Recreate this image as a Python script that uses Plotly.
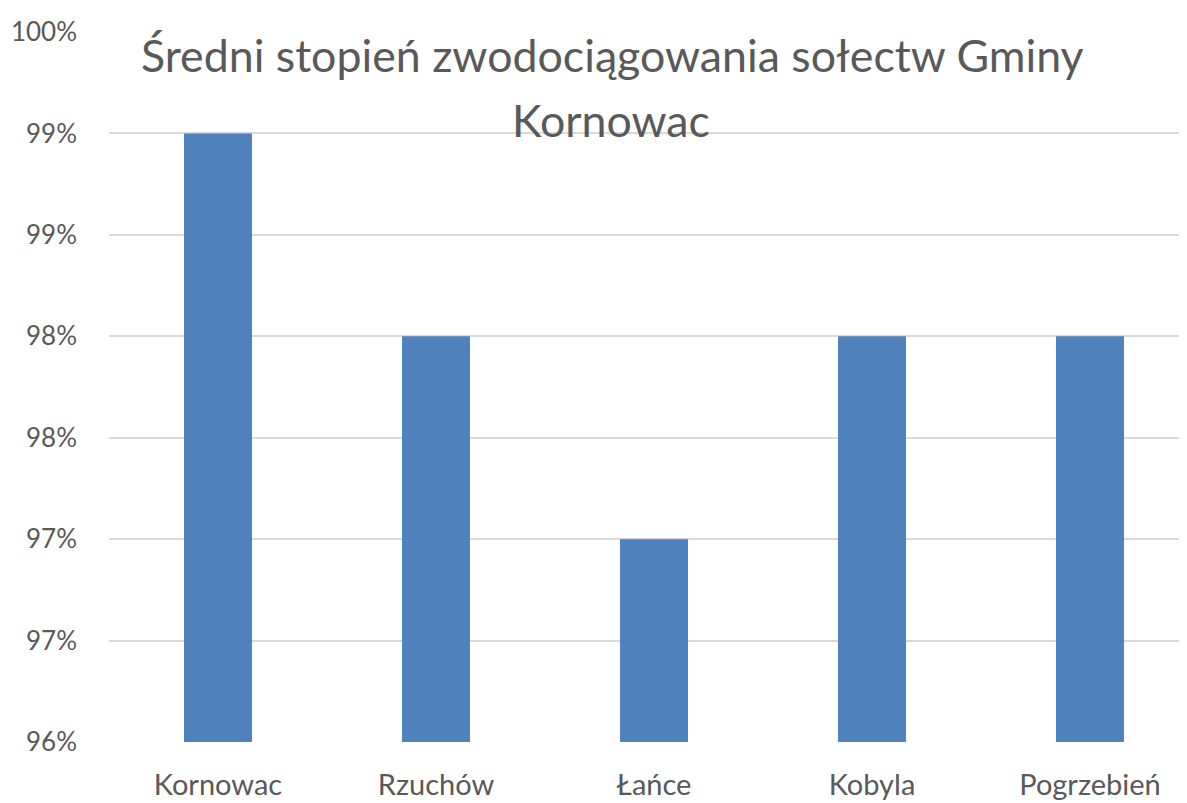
import plotly.graph_objects as go

categories = ["Kornowac", "Rzuchów", "Łańce", "Kobyla", "Pogrzebień"]
values = [0.99, 0.98, 0.97, 0.98, 0.98]
tick_vals = [0.96, 0.965, 0.97, 0.975, 0.98, 0.985, 0.99, 0.995]
tick_text = ["96%", "97%", "97%", "98%", "98%", "99%", "99%", "100%"]
title_lines = ["Średni stopień zwodociągowania sołectw Gminy", "Kornowac"]

FONT = "Lato, 'Open Sans', sans-serif"
GRAY = "#595959"

W, H = 1179, 795
L, T, B = 101, 24, 61
PW, PH = W - L, H - T - B

fig = go.Figure(go.Bar(
    x=categories, y=values, marker=dict(color="#4F81BD", line=dict(width=0)),
))

fig.update_layout(
    width=W, height=H,
    margin=dict(l=L, r=0, t=T, b=B),
    paper_bgcolor="white", plot_bgcolor="white",
    bargap=0.688,
    showlegend=False,
    font=dict(family=FONT, color=GRAY),
)
fig.update_xaxes(
    range=[-0.5, 4.445], showgrid=False, showline=False, zeroline=False,
    tickfont=dict(size=29, color=GRAY, family=FONT),
    ticks="", ticklabelstandoff=23,
)
fig.update_yaxes(
    range=[0.96, 0.995], tickvals=tick_vals, ticktext=tick_text,
    showgrid=True, gridcolor="#d9d9d9", gridwidth=2, zeroline=False, showline=False,
    tickfont=dict(size=26, color=GRAY, family=FONT),
    ticks="", ticklabelstandoff=31,
)
# title lines positioned in figure pixel coordinates (page coords minus 8px body margin)
fig.add_annotation(text=title_lines[0], x=(604 - L) / PW, y=1 - (47 - T) / PH,
                   xref="paper", yref="paper", showarrow=False,
                   font=dict(size=44.7, color=GRAY, family=FONT), xanchor="center", yanchor="middle")
fig.add_annotation(text=title_lines[1], x=(603 - L) / PW, y=1 - (112 - T) / PH,
                   xref="paper", yref="paper", showarrow=False,
                   font=dict(size=44.7, color=GRAY, family=FONT), xanchor="center", yanchor="middle")

fig.write_html("out.html")
